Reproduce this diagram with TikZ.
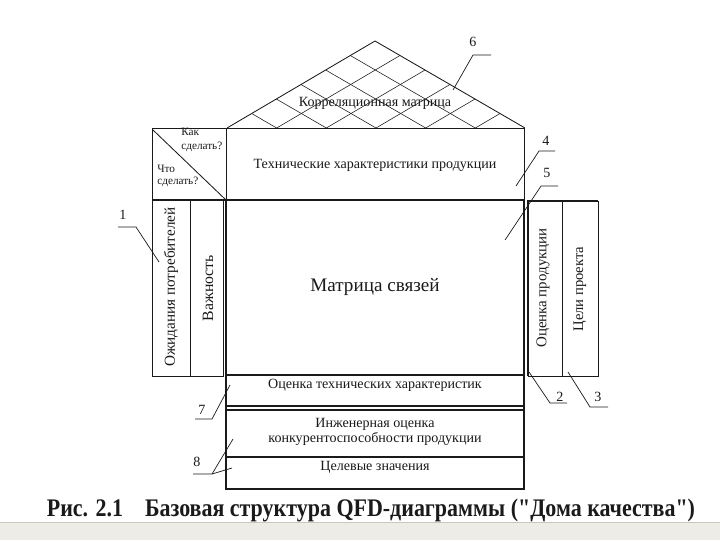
\documentclass[tikz,border=0pt]{standalone}
\usepackage{fontspec}
\usepackage{graphicx}
\setmainfont{Liberation Serif}
\usetikzlibrary{calc}
\definecolor{qfdink}{HTML}{1A1A1A}
\definecolor{qfdband}{HTML}{EEECE7}
\definecolor{qfdbandline}{HTML}{C9C7C1}

\begin{document}
\begin{tikzpicture}[
  x=0.025cm,
  y=-0.025cm,
  every node/.style={font=\fontsize{10}{11.5}\selectfont, text=qfdink, inner sep=0pt},
  thinline/.style={qfdink, line width=0.6pt},
  thickline/.style={qfdink, line width=1.3pt},
  hatchline/.style={qfdink, line width=0.4pt},
  leader/.style={qfdink, line width=0.5pt},
  numlabel/.style={font=\fontsize{10}{12}\selectfont}
]
  \useasboundingbox (0,0) rectangle (720,540);
  \fill[white] (0,0) rectangle (720,540);
  \fill[qfdband] (0,522) rectangle (720,540);
  \draw[qfdbandline, line width=0.5pt] (0,522) -- (720,522);

  % roof with correlation grid
  \coordinate (bl) at (227,128);
  \coordinate (br) at (525,128);
  \coordinate (apex) at (375,41);
  \foreach \k in {1,...,5} {
    \draw[hatchline] ($(bl)!{\k/6}!(br)$) -- ($(br)!{1-\k/6}!(apex)$);
    \draw[hatchline] ($(bl)!{\k/6}!(br)$) -- ($(bl)!{\k/6}!(apex)$);
  }
  \draw[thinline] (bl) -- (apex) -- (br);

  % corner box and technical characteristics
  \draw[thinline] (152,128) rectangle (226,200);
  \draw[thinline] (153,130) -- (226,200);
  \draw[thinline] (226,128) rectangle (524,200);

  % left columns
  \draw[thinline] (152,200) rectangle (223,376);
  \draw[thinline] (190,200) -- (190,376);
  \draw[thickline] (152,200) -- (226,200);

  % right columns
  \draw[thinline] (528,201) rectangle (598,376);
  \draw[thinline] (562,201) -- (562,376);
  \draw[thickline] (528,376) -- (528,201) -- (598,201);

  % relationship matrix and lower rows
  \draw[thickline] (226,200) rectangle (524,375);
  \draw[thickline] (226,375) -- (226,489) -- (524,489) -- (524,375);
  \draw[thickline] (226,406) -- (524,406);
  \draw[thickline] (226,410) -- (524,410);
  \draw[thickline] (226,457) -- (524,457);

  % texts
  \node (corr) at (375,103) {Корреляционная матрица};
  \node (tech) at (375,165) {Технические характеристики продукции};
  \node[anchor=west, align=left, font=\fontsize{8}{10}\selectfont] (how) at (181,140) {Как\\сделать?};
  \node[anchor=west, align=left, font=\fontsize{8}{8.6}\selectfont] (what) at (157,176) {Что\\сделать?};
  \node[rotate=90, font=\fontsize{10.8}{12}\selectfont] (expect) at (171,287) {Ожидания потребителей};
  \node[rotate=90, font=\fontsize{11.2}{13}\selectfont] (weight) at (208,288) {Важность};
  \node[font=\fontsize{13.6}{15}\selectfont] (relmatrix) at (375,287) {Матрица связей};
  \node[rotate=90, font=\fontsize{10.6}{12}\selectfont] (prodeval) at (543,288) {Оценка продукции};
  \node[rotate=90, font=\fontsize{10.4}{12}\selectfont] (goals) at (580,289) {Цели проекта};
  \node (techeval) at (375,385) {Оценка технических характеристик};
  \node[align=center, font=\fontsize{10}{10.8}\selectfont] (engeval) at (375,432) {Инженерная оценка\\конкурентоспособности продукции};
  \node (target) at (375,467) {Целевые значения};
  \node[font=\fontsize{18}{20}\selectfont\bfseries] (caption) at (371,510)
    {\resizebox{16.2cm}{\height}{Рис. 2.1\quad Базовая структура QFD-диаграммы (\textquotedbl Дома качества\textquotedbl)}};

  % numbered leaders
  \node[numlabel] (n6) at (473,42) {6};
  \coordinate (l6a) at (491,55); \coordinate (l6b) at (473,55); \coordinate (l6c) at (453,90);
  \draw[leader] (l6a) -- (l6b) -- (l6c);

  \node[numlabel] (n4) at (546,141) {4};
  \coordinate (l4a) at (555,151); \coordinate (l4b) at (539,151); \coordinate (l4c) at (516,186);
  \draw[leader] (l4a) -- (l4b) -- (l4c);

  \node[numlabel] (n5) at (547,173) {5};
  \coordinate (l5a) at (558,186); \coordinate (l5b) at (541,186); \coordinate (l5c) at (505,240);
  \draw[leader] (l5a) -- (l5b) -- (l5c);

  \node[numlabel] (n1) at (123,215) {1};
  \coordinate (l1a) at (118,227); \coordinate (l1b) at (136,227); \coordinate (l1c) at (159,262);
  \draw[leader] (l1a) -- (l1b) -- (l1c);

  \node[numlabel] (n2) at (560,397) {2};
  \coordinate (l2a) at (529,372); \coordinate (l2b) at (550,403); \coordinate (l2c) at (567,403);
  \draw[leader] (l2a) -- (l2b) -- (l2c);

  \node[numlabel] (n3) at (598,397) {3};
  \coordinate (l3a) at (568,372); \coordinate (l3b) at (590,407); \coordinate (l3c) at (608,407);
  \draw[leader] (l3a) -- (l3b) -- (l3c);

  \node[numlabel] (n7) at (202,410) {7};
  \coordinate (l7a) at (195,419); \coordinate (l7b) at (212,419); \coordinate (l7c) at (230,385);
  \draw[leader] (l7a) -- (l7b) -- (l7c);

  \node[numlabel] (n8) at (197,462) {8};
  \coordinate (l8a) at (193,474); \coordinate (l8b) at (212,474); \coordinate (l8c) at (233,439);
  \coordinate (l8d) at (232,468);
  \draw[leader] (l8a) -- (l8b) -- (l8c);
  \draw[leader] (l8b) -- (l8d);
\end{tikzpicture}
\end{document}
